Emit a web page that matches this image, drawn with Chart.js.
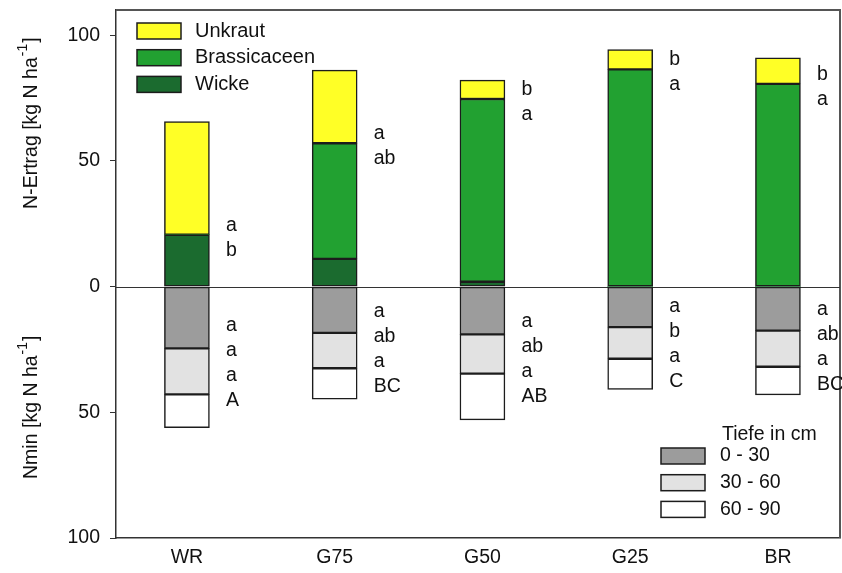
<!DOCTYPE html>
<html>
<head>
<meta charset="utf-8">
<script src="https://cdn.jsdelivr.net/npm/chart.js@4"></script>
<style>
  body { margin: 0; background: #fff; }
  #wrap { width: 842px; height: 573px; }
</style>
</head>
<body>
<div id="wrap"><canvas id="nChart" width="842" height="573"></canvas></div>
<script>
// --- Data (kg N / ha) ---
const categories = ['WR', 'G75', 'G50', 'G25', 'BR'];
const catPos = [1, 2, 3, 4, 5];

// N-Ertrag (upwards)
const wicke        = [20.6, 11.0, 1.9, 0, 0];
const brassicaceen = [0, 46.0, 72.7, 86.4, 80.6];
const unkraut      = [45.0, 29.1, 7.5, 7.9, 10.4];

// Nmin per depth (drawn downwards)
const tiefe0030 = [24.6, 18.4, 19.0, 16.1, 17.5];
const tiefe3060 = [18.3, 14.1, 15.6, 12.6, 14.4];
const tiefe6090 = [13.2, 12.3, 18.4, 12.2, 11.2];

const yTicks = [-100, -50, 0, 50, 100];

// significance letters next to the bars
const upperLetters = [['a', 'b'], ['a', 'ab'], ['b', 'a'], ['b', 'a'], ['b', 'a']];
const lowerLetters = [
  ['a', 'a', 'a', 'A'],
  ['a', 'ab', 'a', 'BC'],
  ['a', 'ab', 'a', 'AB'],
  ['a', 'b', 'a', 'C'],
  ['a', 'ab', 'a', 'BC']
];

const FONT = '"Liberation Sans", Arial, sans-serif';
const TXT = '#111';

function pts(vals, sign) {
  return vals.map((v, i) => ({ x: catPos[i], y: sign * v }));
}

function ds(label, vals, sign, color) {
  return {
    label: label,
    data: pts(vals, sign),
    backgroundColor: color,
    borderColor: '#1c1c1c',
    borderWidth: (c) => (c.raw && c.raw.y !== 0 ? 1.5 : 0),
    borderSkipped: false,
    barThickness: 45,
    stack: 'one'
  };
}

const datasets = [
  ds('Wicke', wicke, 1, '#1b6b2f'),
  ds('Brassicaceen', brassicaceen, 1, '#22a131'),
  ds('Unkraut', unkraut, 1, '#ffff26'),
  ds('0 - 30', tiefe0030, -1, '#9c9c9c'),
  ds('30 - 60', tiefe3060, -1, '#e2e2e2'),
  ds('60 - 90', tiefe6090, -1, '#ffffff')
];

// ---- frame, zero line, legends, letters and axis titles ----
const extras = {
  id: 'extras',
  beforeDatasetsDraw(chart) {
    const { ctx, chartArea: a, scales: { y } } = chart;
    ctx.save();
    ctx.strokeStyle = '#555';
    ctx.lineWidth = 2;
    ctx.beginPath();
    ctx.moveTo(a.left, a.top);
    ctx.lineTo(a.right, a.top);
    ctx.lineTo(a.right, a.bottom);
    ctx.stroke();
    ctx.strokeStyle = '#333';
    ctx.lineWidth = 1.2;
    const y0 = Math.round(y.getPixelForValue(0)) + 0.5;
    ctx.beginPath();
    ctx.moveTo(a.left, y0);
    ctx.lineTo(a.right, y0);
    ctx.stroke();
    ctx.restore();
  },
  afterDatasetsDraw(chart) {
    const { ctx, chartArea: a, scales: { x, y } } = chart;
    ctx.save();
    ctx.font = '19.5px ' + FONT;
    ctx.fillStyle = TXT;
    ctx.textAlign = 'left';
    ctx.textBaseline = 'middle';

    categories.forEach((c, i) => {
      const lx = x.getPixelForValue(catPos[i]) + 39;
      // upper letters straddle the top of the legume/crucifer part
      const yb = y.getPixelForValue(wicke[i] + brassicaceen[i]) + 3;
      upperLetters[i].forEach((t, k) => ctx.fillText(t, lx, yb - 12.5 + k * 25));
      // lower letters centred on the Nmin column
      const tot = tiefe0030[i] + tiefe3060[i] + tiefe6090[i];
      const yc = y.getPixelForValue(-tot / 2) + 6;
      lowerLetters[i].forEach((t, k) => ctx.fillText(t, lx, yc + (k - 1.5) * 25));
    });

    // legend top left
    const upper = [datasets[2], datasets[1], datasets[0]];
    upper.forEach((d, k) => {
      const bx = a.left + 21, by = a.top + 13 + k * 26.7;
      ctx.fillStyle = d.backgroundColor;
      ctx.fillRect(bx, by, 44, 16);
      ctx.strokeStyle = '#1c1c1c';
      ctx.lineWidth = 1.5;
      ctx.strokeRect(bx, by, 44, 16);
      ctx.fillStyle = TXT;
      ctx.font = '20px ' + FONT;
      ctx.fillText(d.label, bx + 58, by + 8);
    });

    // legend bottom right
    ctx.font = '19.5px ' + FONT;
    ctx.fillText('Tiefe in cm', 722, 435);
    [datasets[3], datasets[4], datasets[5]].forEach((d, k) => {
      const bx = 661, by = 448 + k * 26.7;
      ctx.fillStyle = d.backgroundColor;
      ctx.fillRect(bx, by, 44, 16);
      ctx.strokeStyle = '#1c1c1c';
      ctx.lineWidth = 1.5;
      ctx.strokeRect(bx, by, 44, 16);
      ctx.fillStyle = TXT;
      ctx.fillText(d.label, 720, by + 8);
    });

    // rotated y titles with superscript
    drawTitle(ctx, 32, y.getPixelForValue(65), 'N-Ertrag [kg N ha', ']');
    drawTitle(ctx, 32, y.getPixelForValue(-48), 'Nmin [kg N ha', ']');
    ctx.restore();
  }
};

function drawTitle(ctx, cx, cy, main, tail) {
  ctx.save();
  ctx.translate(cx, cy);
  ctx.rotate(-Math.PI / 2);
  ctx.fillStyle = TXT;
  ctx.textBaseline = 'middle';
  ctx.textAlign = 'left';
  const big = '19.5px ' + FONT, small = '14px ' + FONT;
  ctx.font = big;
  const w1 = ctx.measureText(main).width;
  const w3 = ctx.measureText(tail).width;
  ctx.font = small;
  const w2 = ctx.measureText('-1').width + 2;
  let sx = -(w1 + w2 + w3) / 2;
  ctx.font = big;
  ctx.fillText(main, sx, 0);
  ctx.font = small;
  ctx.fillText('-1', sx + w1 + 1, -9);
  ctx.font = big;
  ctx.fillText(tail, sx + w1 + w2, 0);
  ctx.restore();
}

const chart = new Chart(document.getElementById('nChart'), {
  type: 'bar',
  data: { datasets: datasets },
  plugins: [extras],
  options: {
    responsive: false,
    animation: false,
    devicePixelRatio: 1,
    layout: { padding: { top: 10, right: 2, left: 0, bottom: 0 } },
    plugins: { legend: { display: false }, tooltip: { enabled: false } },
    scales: {
      x: {
        type: 'linear',
        stacked: true,
        offset: false,
        min: 0.52,
        max: 5.42,
        afterBuildTicks: (s) => { s.ticks = catPos.map(v => ({ value: v })); },
        afterFit: (s) => { s.height = 35; s.paddingLeft = 0; s.paddingRight = 0; },
        grid: { display: true, drawOnChartArea: false, drawTicks: false },
        border: { display: true, color: '#333', width: 1.5 },
        ticks: {
          padding: 8,
          color: TXT,
          font: { family: FONT, size: 19.5 },
          callback: (v) => categories[v - 1]
        }
      },
      y: {
        stacked: true,
        min: -100,
        max: 110,
        afterBuildTicks: (s) => { s.ticks = yTicks.map(v => ({ value: v })); },
        afterFit: (s) => { s.width = 116; s.paddingTop = 0; s.paddingBottom = 0; },
        grid: { drawOnChartArea: false, drawTicks: true, tickLength: 6, color: '#333' },
        border: { display: true, color: '#333', width: 1.5 },
        ticks: {
          padding: 10,
          color: TXT,
          font: { family: FONT, size: 19.5 },
          callback: (v) => Math.abs(v)
        }
      }
    }
  }
});
</script>
</body>
</html>
